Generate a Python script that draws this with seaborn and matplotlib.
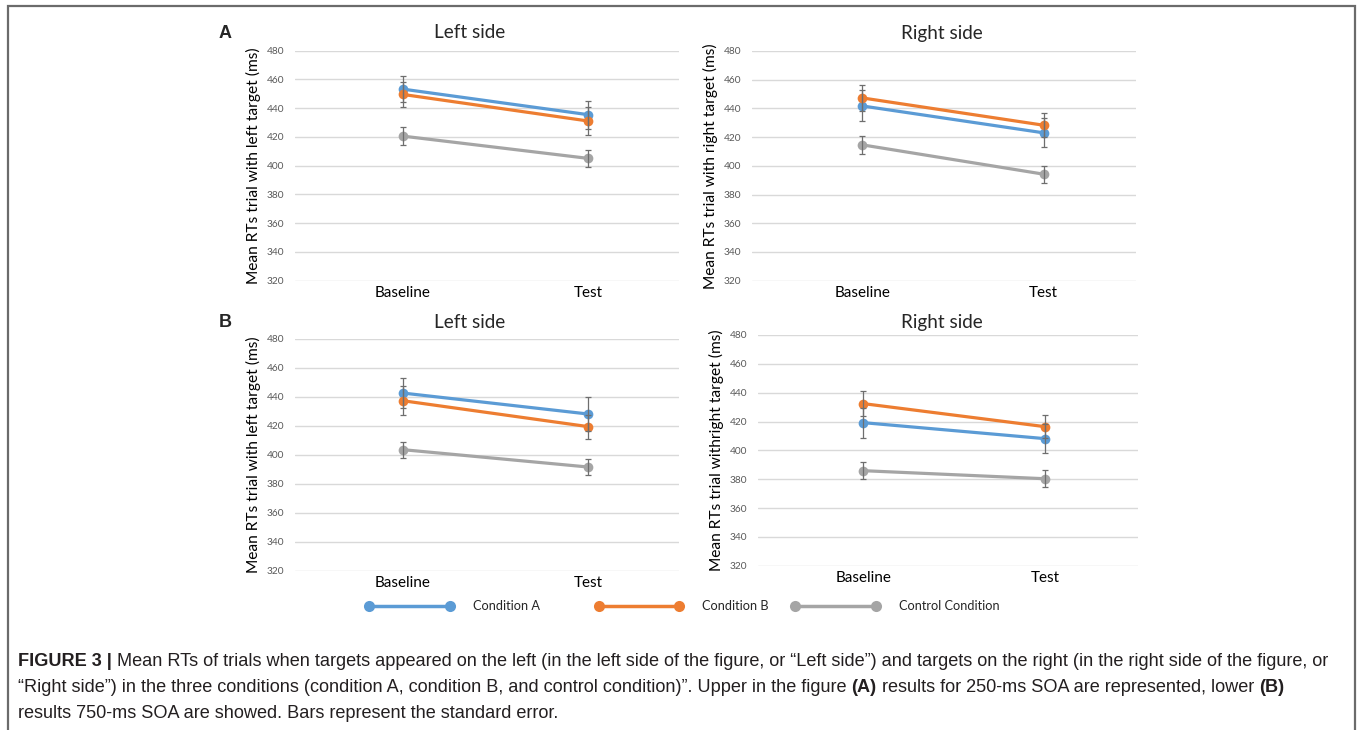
import numpy as np
import pandas as pd
import seaborn as sns
import matplotlib.pyplot as plt
from matplotlib.patches import Rectangle
from matplotlib.lines import Line2D

###############################################################
#-----------------------Data----------------#
###############################################################
phases = ['Baseline', 'Test']
conditions = ['Condition A', 'Condition B', 'Control Condition']

# A: 250-ms SOA
a_left_mean = {'Condition A': [453.3, 435.5], 'Condition B': [449.6, 431.1], 'Control Condition': [420.6, 405.1]}
a_left_se = {'Condition A': [8.8, 9.8], 'Condition B': [8.6, 9.8], 'Control Condition': [6.1, 6.0]}
a_right_mean = {'Condition A': [441.7, 423.0], 'Condition B': [447.3, 428.3], 'Control Condition': [414.6, 394.2]}
a_right_se = {'Condition A': [10.8, 10.0], 'Condition B': [9.0, 8.4], 'Control Condition': [6.3, 6.0]}

# B: 750-ms SOA
b_left_mean = {'Condition A': [442.7, 428.2], 'Condition B': [437.4, 419.5], 'Control Condition': [403.6, 391.6]}
b_left_se = {'Condition A': [10.4, 11.5], 'Condition B': [9.9, 8.3], 'Control Condition': [5.5, 5.8]}
b_right_mean = {'Condition A': [419.2, 408.1], 'Condition B': [432.4, 416.4], 'Control Condition': [385.9, 380.3]}
b_right_se = {'Condition A': [10.4, 9.9], 'Condition B': [8.8, 7.9], 'Control Condition': [6.0, 6.0]}

colors = {'Condition A': '#5B9BD5', 'Condition B': '#ED7D31', 'Control Condition': '#A5A5A5'}

###############################################################
#-----------------------Style---------------------------------#
###############################################################
sns.set_theme(style='white')
plt.rcParams['font.family'] = ['Lato', 'DejaVu Sans']

W, H = 1360, 730
fig = plt.figure(figsize=(W / 100, H / 100), dpi=100)


def px_axes(x0, y0, x1, y1):
    # pixel box (top-left origin) -> figure axes
    return fig.add_axes([x0 / W, 1 - y1 / H, (x1 - x0) / W, (y1 - y0) / H])


def to_df(means, ses):
    rows = []
    for c in conditions:
        for i, p in enumerate(phases):
            rows.append({'cond': c, 'phase': p, 'pos': i, 'rt': means[c][i], 'se': ses[c][i]})
    return pd.DataFrame(rows)


def draw_panel(ax, means, ses, ylabel, xlim):
    df = to_df(means, ses)
    sns.lineplot(data=df, x='pos', y='rt', hue='cond', hue_order=conditions,
                 palette=colors, marker='o', markersize=7, markeredgewidth=0,
                 linewidth=2.3, legend=False, ax=ax, zorder=3)
    for c in conditions:
        sub = df[df['cond'] == c]
        ax.errorbar(sub['pos'], sub['rt'], yerr=sub['se'], fmt='none',
                    ecolor='#6e6e6e', elinewidth=0.9, capsize=2, capthick=0.9, zorder=4)
    ax.set_ylim(320, 480)
    ax.set_yticks(np.arange(320, 481, 20))
    ax.set_xlim(*xlim)
    ax.set_xticks([0, 1])
    ax.set_xticklabels(phases, fontsize=11, color='black')
    ax.tick_params(axis='y', labelsize=7.3, labelcolor='#595959', length=0, pad=8)
    ax.tick_params(axis='x', length=0, pad=4)
    ax.yaxis.grid(True, color='#d9d9d9', linewidth=1)
    ax.xaxis.grid(False)
    for s in ax.spines.values():
        s.set_visible(False)
    ax.set_xlabel('')
    ax.set_ylabel(ylabel, fontsize=11.2, color='black', labelpad=4)


ax1 = px_axes(295, 50.7, 679, 280.7)
draw_panel(ax1, a_left_mean, a_left_se, 'Mean RTs trial with left target (ms)', (-0.58, 1.49))
ax2 = px_axes(752, 51, 1136, 280.7)
draw_panel(ax2, a_right_mean, a_right_se, 'Mean RTs trial with right target (ms)', (-0.61, 1.51))
ax3 = px_axes(295, 339, 679, 570.7)
draw_panel(ax3, b_left_mean, b_left_se, 'Mean RTs trial with left target (ms)', (-0.58, 1.49))
ax4 = px_axes(758, 335, 1138, 565.7)
draw_panel(ax4, b_right_mean, b_right_se, 'Mean RTs trial withright target (ms)', (-0.58, 1.51))

# titles and panel letters
for x, y, t in [(470, 33, 'Left side'), (942, 33, 'Right side'),
                (470, 322, 'Left side'), (942, 322, 'Right side')]:
    fig.text(x / W, 1 - y / H, t, fontsize=13.6, ha='center', va='center')
fig.text(225 / W, 1 - 33 / H, 'A', fontsize=13, fontweight='bold', ha='center', va='center',
         family=['Liberation Sans', 'DejaVu Sans'])
fig.text(225 / W, 1 - 322 / H, 'B', fontsize=13, fontweight='bold', ha='center', va='center',
         family=['Liberation Sans', 'DejaVu Sans'])

# legend (line with a marker at each end, label to the right)
leg_y = 1 - 606 / H
for c, (x0, x1, xt) in zip(conditions, [(369, 450, 473), (599, 679, 702), (795, 876, 899)]):
    fig.add_artist(Line2D([x0 / W, x1 / W], [leg_y, leg_y], transform=fig.transFigure,
                          color=colors[c], lw=2.5, marker='o', markersize=8, markeredgewidth=0))
    fig.text(xt / W, leg_y, c, fontsize=9.2, ha='left', va='center')

# outer border
fig.add_artist(Rectangle((8 / W, -0.05), (1355 - 8) / W, 1.05 - 6 / H, transform=fig.transFigure,
                         fill=False, edgecolor='#6b6b6b', linewidth=1.6))

###############################################################
#-----------------------Caption-------------------------------#
###############################################################
cap_font = ['Liberation Sans', 'DejaVu Sans']
cap_size = 13.05
cap_color = '#231f20'
caption_lines = [
    [('FIGURE 3 |', True),
     ('Mean RTs of trials when targets appeared on the left (in the left side of the figure, or \u201cLeft side\u201d) and targets on the right (in the right side of the figure, or', False)],
    [('\u201cRight side\u201d) in the three conditions (condition A, condition B, and control condition)\u201d. Upper in the figure', False),
     ('(A)', True), ('results for 250-ms SOA are represented, lower', False), ('(B)', True)],
    [('results 750-ms SOA are showed. Bars represent the standard error.', False)],
]
fig.canvas.draw()
renderer = fig.canvas.get_renderer()
probe = fig.text(0, 0, 'a a', fontsize=cap_size, family=cap_font)
probe2 = fig.text(0, 0, 'aa', fontsize=cap_size, family=cap_font)
space_w = probe.get_window_extent(renderer).width - probe2.get_window_extent(renderer).width
probe.remove()
probe2.remove()

for y, segs in zip([661, 687, 713], caption_lines):
    x = 18
    for txt, bold in segs:
        t = fig.text(x / W, 1 - y / H, txt, fontsize=cap_size, family=cap_font,
                     fontweight='bold' if bold else 'normal', color=cap_color, va='center', ha='left')
        x += t.get_window_extent(renderer).width + space_w

fig.savefig('out.png', dpi=100)
